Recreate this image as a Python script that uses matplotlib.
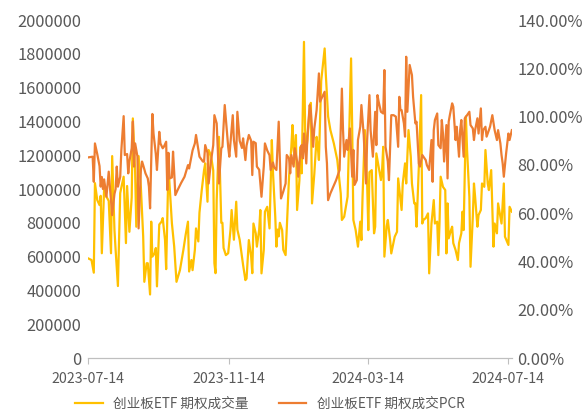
import numpy as np
import pandas as pd
import matplotlib
matplotlib.use('Agg')
import matplotlib.pyplot as plt
import matplotlib.dates as mdates
from matplotlib.ticker import FuncFormatter

plt.rcParams['font.family'] = ['Noto Sans CJK SC', 'DejaVu Sans']

inicio = pd.Timestamp('2023-07-14')

# 创业板ETF 期权成交量 (dias desde 2023-07-14, volume em milhares)
vol_dias = [0, 3, 5, 6, 8, 10, 11, 12, 14, 16, 18, 20, 21, 23, 24, 26, 28, 29, 31, 33,
            34, 36, 38, 39, 41, 42, 44, 46, 48, 49, 51, 52, 54, 55, 56, 58, 59, 60, 62, 64,
            65, 67, 68, 70, 71, 73, 75, 77, 80, 83, 85, 87, 88, 90, 91, 93, 94, 96, 97, 99,
            101, 102, 104, 105, 107, 109, 110, 111, 112, 114, 116, 117, 118, 120, 122, 124, 125, 127, 129, 130,
            132, 134, 135, 137, 138, 140, 142, 143, 144, 146, 147, 149, 150, 151, 153, 154, 156, 158, 160, 161,
            163, 164, 165, 166, 167, 169, 170, 172, 174, 175, 177, 178, 179, 180, 181, 182, 184, 185, 186, 188,
            189, 190, 191, 193, 194, 195, 197, 199, 200, 201, 203, 206, 207, 209, 211, 214, 217, 220, 221, 223,
            224, 226, 229, 230, 231, 233, 235, 237, 238, 239, 241, 243, 244, 245, 247, 249, 250, 251, 253, 255,
            256, 257, 258, 260, 261, 263, 264, 267, 269, 270, 272, 273, 274, 276, 277, 279, 281, 282, 284, 285,
            286, 288, 290, 291, 292, 294, 296, 297, 299, 301, 302, 304, 305, 306, 307, 309, 311, 312, 313, 314,
            316, 317, 318, 320, 322, 323, 325, 326, 327, 329, 330, 332, 333, 335, 336, 337, 339, 340, 342, 343,
            345, 346, 348, 349, 351, 353, 354, 356, 357, 359, 360, 362, 363, 366, 367, 369]
vol_mil = [590, 580, 505, 1035, 935, 905, 960, 620, 1005, 955, 930, 620, 1195, 757, 640, 426, 976, 1010, 1073, 680,
           1018, 747, 950, 1418, 1100, 777, 1195, 1010, 720, 451, 561, 561, 376, 807, 600, 620, 651, 424, 790, 807,
           828, 700, 526, 1132, 1020, 798, 660, 451, 520, 640, 730, 807, 512, 580, 520, 640, 767, 690, 860, 994,
           1112, 1152, 925, 1231, 1200, 1110, 561, 502, 935, 1309, 800, 800, 651, 609, 620, 757, 876, 700, 925, 760,
           700, 600, 550, 461, 470, 698, 600, 502, 796, 738, 659, 760, 876, 501, 640, 866, 895, 767, 1290, 1100,
           836, 659, 760, 720, 800, 757, 640, 609, 915, 1073, 1250, 1379, 1231, 1180, 1320, 876, 1050, 1250, 1093, 1871,
           1350, 1230, 1290, 1487, 1510, 915, 1090, 1309, 1250, 1172, 1640, 1832, 1680, 1430, 1349, 1270, 1172, 974, 817, 836,
           876, 955, 1773, 1349, 817, 757, 659, 807, 698, 954, 1349, 1033, 757, 1100, 1112, 738, 777, 1211, 1132, 1053,
           1112, 1250, 600, 780, 817, 698, 619, 718, 747, 1063, 935, 876, 1033, 1152, 1033, 1349, 1190, 1033, 915, 915,
           777, 1132, 1556, 796, 817, 828, 856, 501, 796, 935, 796, 807, 609, 796, 1073, 1013, 994, 619, 915, 708,
           757, 777, 680, 639, 580, 680, 738, 866, 757, 1430, 1230, 954, 540, 836, 1033, 954, 777, 846, 876, 1033,
           1013, 1231, 1033, 994, 1112, 659, 796, 738, 915, 836, 796, 1033, 718, 669, 895, 866]

# 创业板ETF 期权成交PCR (dias desde 2023-07-14, em %)
pcr_dias = [0, 4, 5, 6, 8, 10, 11, 12, 13, 14, 16, 17, 18, 20, 21, 23, 24, 25, 26, 28,
            29, 31, 32, 34, 35, 36, 38, 39, 40, 41, 43, 44, 46, 47, 48, 50, 52, 53, 54, 56,
            57, 59, 60, 62, 63, 65, 66, 68, 69, 70, 71, 73, 74, 75, 76, 78, 81, 84, 87, 88,
            91, 93, 94, 96, 97, 100, 101, 102, 104, 105, 107, 109, 110, 112, 113, 114, 116, 117, 119, 121,
            122, 123, 125, 126, 127, 129, 130, 132, 134, 135, 137, 138, 140, 142, 143, 144, 146, 147, 149, 151,
            153, 154, 156, 158, 159, 161, 162, 164, 166, 167, 168, 170, 172, 173, 175, 176, 177, 179, 180, 182,
            183, 185, 186, 187, 188, 190, 191, 193, 194, 196, 197, 199, 201, 202, 204, 206, 207, 208, 209, 211,
            216, 219, 221, 222, 223, 225, 226, 228, 230, 231, 232, 234, 235, 237, 238, 240, 242, 243, 245, 246,
            248, 250, 251, 252, 253, 255, 257, 258, 259, 261, 262, 264, 266, 268, 270, 271, 272, 273, 275, 276,
            277, 278, 280, 282, 283, 285, 286, 288, 289, 291, 294, 295, 297, 299, 300, 301, 302, 304, 305, 307,
            308, 309, 310, 312, 313, 314, 315, 317, 318, 320, 321, 323, 324, 325, 327, 328, 330, 332, 333, 335,
            336, 337, 339, 340, 342, 343, 344, 346, 347, 349, 350, 352, 354, 356, 357, 359, 360, 361, 362, 364,
            365, 366, 367, 369]
pcr = [83.1, 83.4, 73.0, 88.9, 84.5, 79.5, 71.0, 75.0, 70.0, 74.0, 66.8, 72.0, 77.2, 65.0, 59.2, 68.0, 70.0, 79.3, 71.0, 75.1,
       86.2, 100.2, 84.1, 84.5, 76.5, 81.4, 86.9, 98.0, 79.3, 88.9, 83.5, 53.7, 77.9, 81.4, 79.9, 76.5, 74.4, 71.0, 62.0, 101.1,
       93.0, 84.5, 77.9, 93.7, 88.9, 86.9, 87.5, 89.6, 69.6, 85.0, 74.4, 74.8, 85.5, 77.0, 67.5, 69.6, 72.5, 75.1, 79.9, 78.5,
       86.0, 88.9, 92.4, 86.2, 83.4, 81.4, 81.3, 88.2, 85.0, 72.3, 81.4, 88.2, 100.6, 97.2, 86.0, 72.3, 86.9, 87.5, 104.8, 93.0,
       87.5, 83.4, 95.1, 100.6, 90.3, 83.4, 102.0, 90.0, 87.0, 91.0, 82.0, 88.0, 92.4, 90.0, 75.8, 89.6, 89.0, 79.3, 78.0, 66.8,
       79.3, 88.9, 86.0, 84.0, 77.9, 81.0, 79.0, 77.9, 97.9, 82.0, 66.1, 69.0, 72.3, 84.1, 82.7, 76.5, 84.1, 79.3, 86.9, 81.4,
       75.1, 86.2, 88.2, 82.7, 93.0, 80.6, 91.7, 104.8, 102.0, 87.5, 95.1, 102.7, 117.9, 106.2, 108.2, 110.3, 87.5, 80.6, 65.4, 68.2,
       73.7, 77.9, 111.6, 94.4, 83.4, 90.3, 86.2, 95.1, 75.1, 86.2, 71.7, 73.7, 90.3, 95.8, 104.8, 92.4, 72.3, 90.3, 108.9, 94.4,
       83.4, 102.0, 88.2, 108.9, 106.2, 102.0, 101.3, 119.3, 87.5, 81.4, 73.7, 100.6, 100.6, 100.0, 87.5, 108.2, 102.7, 102.7, 97.2, 91.7,
       124.8, 102.0, 121.4, 117.2, 108.2, 97.2, 97.9, 80.6, 79.3, 84.1, 82.0, 79.9, 77.9, 90.3, 73.0, 94.4, 98.6, 101.3, 88.2, 86.9,
       98.6, 93.0, 81.4, 96.5, 74.4, 97.9, 100.6, 105.5, 104.1, 90.3, 95.8, 83.4, 94.4, 98.6, 83.4, 99.3, 100.6, 102.0, 96.5, 95.1,
       90.3, 94.4, 99.3, 93.0, 103.4, 90.3, 94.4, 95.8, 91.7, 94.4, 95.8, 100.6, 94.4, 90.3, 94.4, 88.9, 84.1, 80.6, 75.1, 84.8,
       88.9, 93.0, 90.3, 94.4]

rotulos_x = ['2023-07-14', '2023-11-14', '2024-03-14', '2024-07-14']

datas_vol = inicio + pd.to_timedelta(vol_dias, unit='D')
datas_pcr = inicio + pd.to_timedelta(pcr_dias, unit='D')

cinza = '#595959'

fig = plt.figure(figsize=(5.87, 4.18), dpi=100)
ax = fig.add_axes([0.150, 0.1435, 0.722, 0.8085])
ax2 = ax.twinx()

l1, = ax.plot(datas_vol, np.array(vol_mil) * 1000, color='#FFC000', linewidth=1.6)
l2, = ax2.plot(datas_pcr, pcr, color='#ED7D31', linewidth=1.6)

ax.set_ylim(0, 2000000)
ax.set_yticks(np.arange(0, 2000001, 200000))
ax.yaxis.set_major_formatter(FuncFormatter(lambda v, p: f'{int(v)}'))
ax2.set_ylim(0, 140)
ax2.set_yticks(np.arange(0, 141, 20))
ax2.yaxis.set_major_formatter(FuncFormatter(lambda v, p: f'{v:.2f}%'))

ax.set_xlim(inicio, datas_pcr[-1])
ax.set_xticks(pd.to_datetime(rotulos_x))
ax.xaxis.set_major_formatter(mdates.DateFormatter('%Y-%m-%d'))

for a in (ax, ax2):
    for lado in ('top', 'left', 'right'):
        a.spines[lado].set_visible(False)
    a.spines['bottom'].set_color('#BFBFBF')
    a.tick_params(axis='y', length=0, labelsize=11.8, labelcolor=cinza)
ax.tick_params(axis='y', pad=5)
ax2.tick_params(axis='y', pad=4)
ax.tick_params(axis='x', length=4, color='#BFBFBF', labelsize=10.2, labelcolor=cinza, pad=6)

fig.legend([l1, l2], ['创业板ETF 期权成交量', '创业板ETF 期权成交PCR'],
           loc='lower center', bbox_to_anchor=(0.46, -0.012), ncol=2, frameon=False,
           fontsize=9.8, labelcolor=cinza, handlelength=2.0, columnspacing=2.2)

fig.savefig('out.png', dpi=100)
